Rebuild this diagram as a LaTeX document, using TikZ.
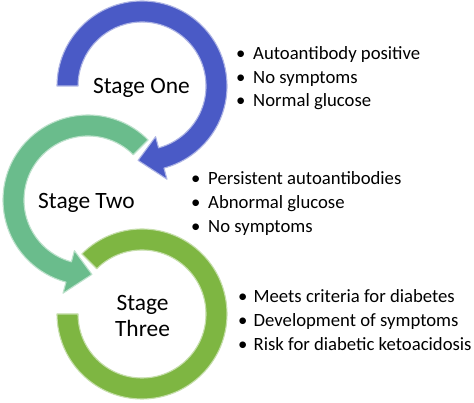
\documentclass[tikz,border=0pt]{standalone}
\usepackage{fontspec}
\setmainfont{Carlito}
\definecolor{blueA}{RGB}{74,90,198}
\definecolor{tealA}{RGB}{106,188,140}
\definecolor{greenA}{RGB}{126,182,66}
\tikzset{
  ring/.style={line width=1.1pt, line join=round},
  stagelbl/.style={font=\fontsize{23.4}{26}\selectfont, inner sep=0pt, anchor=base},
  bul/.style={font=\fontsize{18.7}{22}\selectfont, inner sep=0pt, anchor=base west},
}
\newcommand{\bl}[2][13pt]{\makebox[#1][l]{\hspace{-4.2pt}•}#2}
\begin{document}
\begin{tikzpicture}[x=1pt,y=1pt]
\useasboundingbox (0,0) rectangle (474,403);
\fill[white] (0,0) rectangle (474,403);
% centres
\coordinate (c1) at (142,317);
\coordinate (c2) at (88,203);
\coordinate (c3) at (142,89);
% Stage Three ring
\begin{scope}[shift={(c3)}]
\draw[ring, fill=greenA, draw=greenA!45!white]
  (135:85) arc[start angle=135, end angle=-180, radius=85]
  -- (180:64) arc[start angle=-180, end angle=135, radius=64] -- cycle;
\end{scope}
% Stage Two arrow
\begin{scope}[shift={(c2)}]
\draw[ring, fill=tealA, draw=tealA!45!white]
  (45:85) arc[start angle=45, end angle=255, radius=85]
  -- (255:96.5) -- (273:74.5) -- (255:52.5) -- (255:64)
  arc[start angle=255, end angle=45, radius=64] -- cycle;
\end{scope}
% Stage One arrow
\begin{scope}[shift={(c1)}]
\draw[ring, fill=blueA, draw=blueA!45!white]
  (180:85) arc[start angle=180, end angle=-75, radius=85]
  -- (-75:96.5) -- (-93:74.5) -- (-75:52.5) -- (-75:64)
  arc[start angle=-75, end angle=180, radius=64] -- cycle;
\end{scope}
% labels
\node[stagelbl] (l1) at (141.5,309) {Stage One};
\node[stagelbl] (l2) at (86.5,194) {Stage Two};
\node[stagelbl] (l3a) at (142.5,92) {Stage};
\node[stagelbl] (l3b) at (142.5,66) {Three};
% bullets stage one
\node[bul] (b1a) at (240,343) {\bl{Autoantibody positive}};
\node[bul] (b1b) at (240,319.5) {\bl{No symptoms}};
\node[bul] (b1c) at (240,296) {\bl{Normal glucose}};
% bullets stage two
\node[bul] (b2a) at (195,218) {\bl{Persistent autoantibodies}};
\node[bul] (b2b) at (195,194) {\bl{Abnormal glucose}};
\node[bul] (b2c) at (195,170) {\bl{No symptoms}};
% bullets stage three
\node[bul] (b3a) at (242,100) {\bl[11.5pt]{Meets criteria for diabetes}};
\node[bul] (b3b) at (242,76) {\bl[11.5pt]{Development of symptoms}};
\node[bul] (b3c) at (242,52) {\bl[11.5pt]{Risk for diabetic ketoacidosis}};
\end{tikzpicture}
\end{document}
